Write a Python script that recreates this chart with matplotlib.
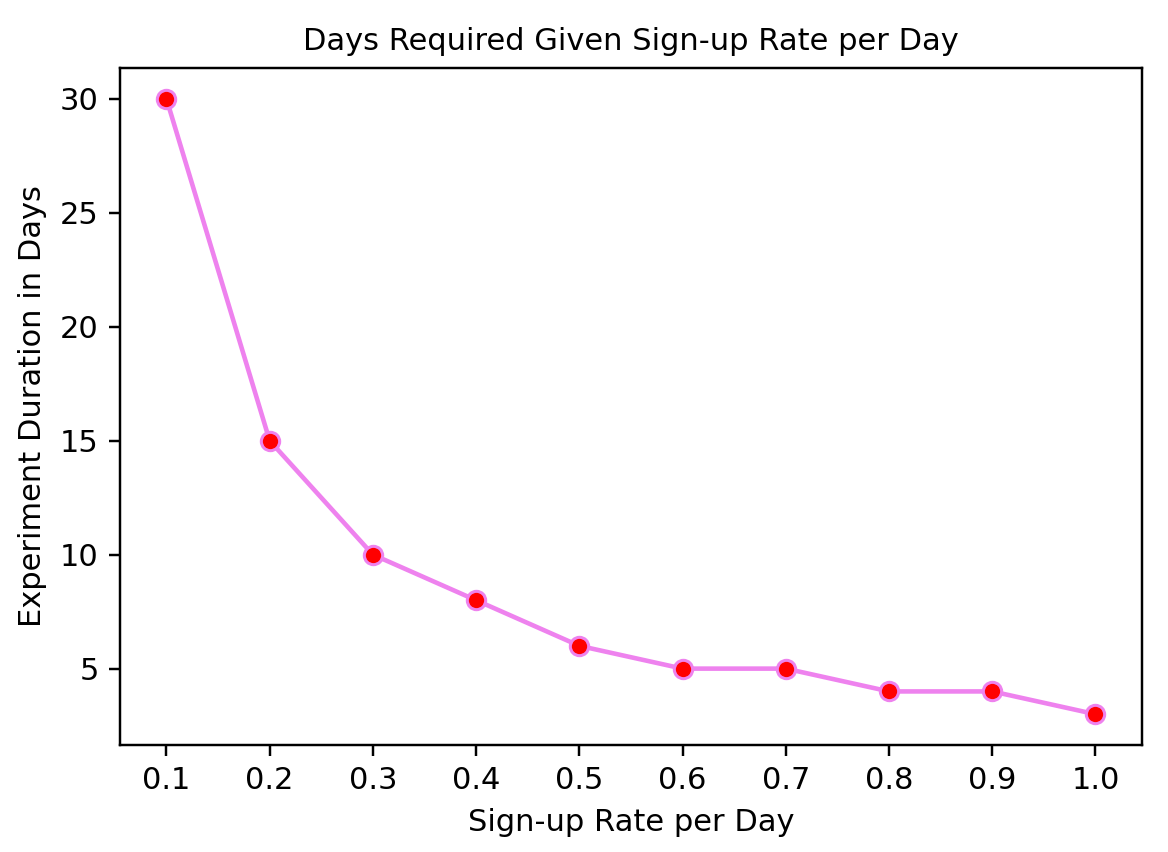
import matplotlib
matplotlib.use("Agg")
import matplotlib.pyplot as plt

rates = [0.1, 0.2, 0.3, 0.4, 0.5, 0.6, 0.7, 0.8, 0.9, 1.0]
days = [30, 15, 10, 8, 6, 5, 5, 4, 4, 3]
xticks = [0.1, 0.2, 0.3, 0.4, 0.5, 0.6, 0.7, 0.8, 0.9, 1.0]

DPI = 220
fig = plt.figure(figsize=(1168 / DPI, 852 / DPI), dpi=DPI)
ax = fig.add_axes([0.1027, 0.1256, 0.875, 0.7946])
ax.plot(rates, days, marker='o', color='violet', markerfacecolor='red',
        markersize=6, linewidth=1.5)
ax.set_xticks(xticks)
ax.set_title("Days Required Given Sign-up Rate per Day", fontsize=10)
ax.set_xlabel("Sign-up Rate per Day")
ax.set_ylabel("Experiment Duration in Days")
fig.savefig("out.png", dpi=DPI)
